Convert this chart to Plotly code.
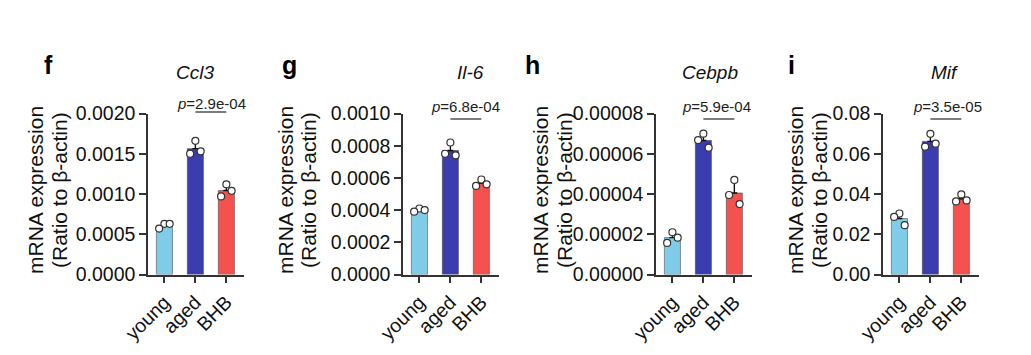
import numpy as np
import plotly.graph_objects as go

# ---------------- data ----------------
categories = ["young", "aged", "BHB"]
panel_letters = ["f", "g", "h", "i"]
genes = ["Ccl3", "Il-6", "Cebpb", "Mif"]
p_values = ["2.9e-04", "6.8e-04", "5.9e-04", "3.5e-05"]

ccl3_young = [0.00063, 0.00057, 0.00063]
ccl3_aged = [0.00166, 0.00150, 0.00153]
ccl3_bhb = [0.00112, 0.00097, 0.00104]

il6_young = [0.00041, 0.00039, 0.00040]
il6_aged = [0.00082, 0.00075, 0.00074]
il6_bhb = [0.00059, 0.00055, 0.00056]

cebpb_young = [0.0000210, 0.0000157, 0.0000183]
cebpb_aged = [0.0000700, 0.0000668, 0.0000630]
cebpb_bhb = [0.0000470, 0.0000395, 0.0000350]

mif_young = [0.0303, 0.0286, 0.0245]
mif_aged = [0.0699, 0.0635, 0.0650]
mif_bhb = [0.0398, 0.0363, 0.0368]

y_tops = [0.0020, 0.0010, 0.00008, 0.08]
y_dticks = [0.0005, 0.0002, 0.00002, 0.02]
y_formats = [".4f", ".4f", ".5f", ".2f"]

panels_data = [
    [ccl3_young, ccl3_aged, ccl3_bhb],
    [il6_young, il6_aged, il6_bhb],
    [cebpb_young, cebpb_aged, cebpb_bhb],
    [mif_young, mif_aged, mif_bhb],
]

# ---------------- style / layout ----------------
W, H = 1031, 355
FONT = "Liberation Sans, Arial, Helvetica, sans-serif"
BAR_COLORS = ["#80CBE8", "#3B3DAE", "#F5514F"]
JITTER = [0.0, -0.17, 0.17]
AXIS_COLOR = "#333333"

PLOT_X0 = [148, 403, 656, 883]
PLOT_W = 96
PLOT_TOP, PLOT_BOTTOM = 113.5, 274.5
LETTER_X = [48, 289, 532, 791]
GENE_X = [195, 470, 710, 944]
P_X = [211, 465, 716, 947]
P_Y = [103, 106, 106, 106]
SIG_Y = [112, 119, 119, 119]
YTITLE_X = [(36, 60), (286, 309), (541, 565), (796, 820)]


def fx(p):
    return p / W


def fy(p):
    return 1 - p / H


fig = go.Figure()
annotations = []
shapes = []

for k in range(4):
    xa = "x" if k == 0 else f"x{k+1}"
    ya = "y" if k == 0 else f"y{k+1}"
    groups = panels_data[k]
    means = [float(np.mean(g)) for g in groups]
    sds = [float(np.std(g, ddof=1)) for g in groups]

    fig.add_trace(go.Bar(
        x=[0, 1, 2], y=means, width=0.52,
        marker=dict(color=BAR_COLORS, line=dict(color="rgba(70,70,70,0.7)", width=0.8)),
        error_y=dict(type="data", symmetric=False, array=sds, arrayminus=[0, 0, 0],
                     color="#111111", thickness=1.4, width=3),
        xaxis=xa, yaxis=ya, showlegend=False,
    ))
    px_, py_ = [], []
    for gi, g in enumerate(groups):
        for j, v in enumerate(g):
            px_.append(gi + JITTER[j])
            py_.append(v)
    fig.add_trace(go.Scatter(
        x=px_, y=py_, mode="markers",
        marker=dict(symbol="circle", size=7, color="white",
                    line=dict(color="#333333", width=1.2)),
        xaxis=xa, yaxis=ya, showlegend=False, cliponaxis=False,
    ))

    axis_common = dict(
        showline=True, linecolor=AXIS_COLOR, linewidth=1.5,
        ticks="outside", ticklen=7, tickwidth=1.5, tickcolor=AXIS_COLOR,
        showgrid=False, zeroline=False,
        tickfont=dict(family=FONT, size=19.5, color="#111111"),
    )
    fig.update_layout({
        ("xaxis" if k == 0 else f"xaxis{k+1}"): dict(
            domain=[fx(PLOT_X0[k]), fx(PLOT_X0[k] + PLOT_W)],
            range=[-0.53, 2.57], tickvals=[0, 1, 2], ticktext=categories,
            tickangle=-45, anchor=ya, fixedrange=True, **axis_common),
        ("yaxis" if k == 0 else f"yaxis{k+1}"): dict(
            domain=[fy(PLOT_BOTTOM), fy(PLOT_TOP)],
            range=[0, y_tops[k]], dtick=y_dticks[k], tick0=0,
            tickformat=y_formats[k], anchor=xa, fixedrange=True, **axis_common),
    })

    # panel letter
    annotations.append(dict(text=f"<b>{panel_letters[k]}</b>", x=fx(LETTER_X[k]), y=fy(65),
                            xref="paper", yref="paper", showarrow=False,
                            xanchor="center", yanchor="middle",
                            font=dict(family=FONT, size=25, color="#000000")))
    # gene title
    annotations.append(dict(text=f"<i>{genes[k]}</i>", x=fx(GENE_X[k]), y=fy(73),
                            xref="paper", yref="paper", showarrow=False,
                            xanchor="center", yanchor="middle",
                            font=dict(family=FONT, size=19, color="#111111")))
    # p value
    annotations.append(dict(text=f"<i>p</i>={p_values[k]}", x=fx(P_X[k]), y=fy(P_Y[k]),
                            xref="paper", yref="paper", showarrow=False,
                            xanchor="center", yanchor="middle",
                            font=dict(family=FONT, size=15, color="#222222")))
    # y titles
    for line_text, xpos in zip(["mRNA expression", "(Ratio to β-actin)"], YTITLE_X[k]):
        annotations.append(dict(text=line_text, x=fx(xpos), y=fy(190),
                                xref="paper", yref="paper", showarrow=False,
                                textangle=-90, xanchor="center", yanchor="middle",
                                font=dict(family=FONT, size=21, color="#111111")))
    # significance line between aged and BHB
    shapes.append(dict(type="line", xref=xa, yref="paper", x0=1, x1=2,
                       y0=fy(SIG_Y[k]), y1=fy(SIG_Y[k]),
                       line=dict(color="#444444", width=1.4)))

fig.update_layout(
    width=W, height=H, margin=dict(l=0, r=0, t=0, b=0),
    paper_bgcolor="white", plot_bgcolor="white", template="none",
    annotations=annotations, shapes=shapes, bargap=0.3,
    font=dict(family=FONT, color="#111111"),
)

fig.write_html("out.html", config={"displayModeBar": False},
               post_script="document.body.style.margin='0px';")
